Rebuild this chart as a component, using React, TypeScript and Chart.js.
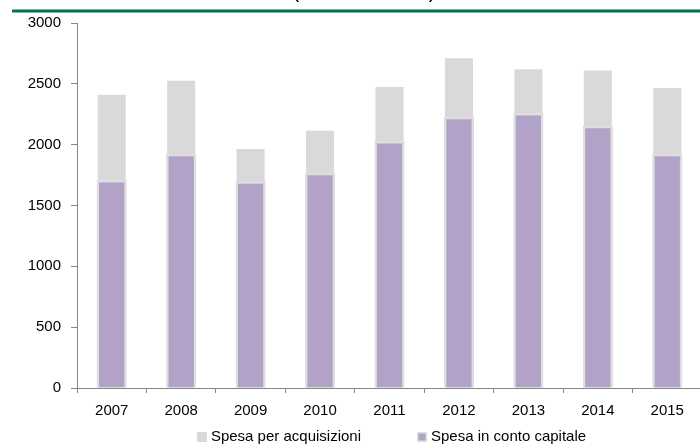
import React, { useEffect, useRef } from "react";
import { Chart, registerables } from "chart.js";

Chart.register(...registerables);

const years = ["2007", "2008", "2009", "2010", "2011", "2012", "2013", "2014", "2015"];
const spesaAcquisizioni = [2410, 2525, 1965, 2115, 2475, 2710, 2620, 2610, 2465];
const spesaContoCapitale = [1710, 1925, 1700, 1770, 2030, 2230, 2260, 2155, 1925];
const yMin = 0;
const yMax = 3000;
const yStep = 500;
const seriesLabels = ["Spesa per acquisizioni", "Spesa in conto capitale"];
const titleText = "(milioni di euro)";

const FONT = "'Liberation Sans', Arial, sans-serif";
const FS = 15;
const GRAY = "#d9d9d9";
const PURPLE = "#b3a2c7";
const PURPLE_BORDER = "#dedede";
const AXIS = "#868686";

const decorPlugin = {
  id: "decor",
  afterDraw(chart: any) {
    const ctx = chart.ctx;
    const area = chart.chartArea;
    ctx.save();
    ctx.strokeStyle = "#00704c";
    ctx.lineWidth = 3;
    ctx.beginPath();
    ctx.moveTo(12, 11);
    ctx.lineTo(chart.width, 11);
    ctx.stroke();
    ctx.fillStyle = "#000";
    ctx.font = `21px ${FONT}`;
    ctx.textAlign = "center";
    ctx.textBaseline = "alphabetic";
    ctx.fillText(titleText, 364, -2);

    ctx.font = `${FS}px ${FONT}`;
    ctx.textBaseline = "middle";
    ctx.textAlign = "left";
    const box = 10;
    const gapBoxText = 4;
    const gapItems = 56;
    const w0 = ctx.measureText(seriesLabels[0]).width;
    const w1 = ctx.measureText(seriesLabels[1]).width;
    const total = box + gapBoxText + w0 + gapItems + box + gapBoxText + w1;
    let x = (area.left + area.right) / 2 + 2 - total / 2;
    const cy = 437;
    ctx.fillStyle = GRAY;
    ctx.fillRect(x, cy - box / 2, box, box);
    ctx.fillStyle = "#000";
    ctx.fillText(seriesLabels[0], x + box + gapBoxText, cy);
    x += box + gapBoxText + w0 + gapItems;
    ctx.fillStyle = PURPLE_BORDER;
    ctx.fillRect(x, cy - box / 2, box, box);
    ctx.fillStyle = PURPLE;
    ctx.fillRect(x + 1.5, cy - box / 2 + 1.5, box - 3, box - 3);
    ctx.fillStyle = "#000";
    ctx.fillText(seriesLabels[1], x + box + gapBoxText, cy);
    ctx.restore();
  },
};

export default function App() {
  const ref = useRef<HTMLCanvasElement | null>(null);
  useEffect(() => {
    if (!ref.current) return;
    const chart = new Chart(ref.current, {
      type: "bar",
      data: {
        labels: years,
        datasets: [
          {
            label: seriesLabels[0],
            data: spesaAcquisizioni,
            backgroundColor: GRAY,
            borderWidth: 0,
            barPercentage: 0.404,
            categoryPercentage: 1,
            grouped: false,
            order: 2,
          } as any,
          {
            label: seriesLabels[1],
            data: spesaContoCapitale,
            backgroundColor: PURPLE,
            borderColor: PURPLE_BORDER,
            borderWidth: 2.5,
            barPercentage: 0.435,
            categoryPercentage: 1,
            grouped: false,
            order: 1,
          } as any,
        ],
      },
      options: {
        responsive: false,
        animation: false,
        devicePixelRatio: 1,
        layout: { padding: { top: 23, left: 0, right: 0, bottom: 26 } },
        plugins: {
          legend: { display: false },
          tooltip: { enabled: false },
          title: { display: false },
        },
        scales: {
          x: {
            offset: true,
            grid: {
              display: true,
              drawOnChartArea: false,
              offset: true,
              tickLength: 5,
              color: AXIS,
            },
            border: { display: true, color: AXIS, width: 1 },
            ticks: {
              color: "#000",
              font: { family: FONT, size: FS },
              padding: 9,
              maxRotation: 0,
            },
            afterFit(scale: any) {
              scale.height = 33;
            },
          } as any,
          y: {
            min: yMin,
            max: yMax,
            grid: {
              display: true,
              drawOnChartArea: false,
              tickLength: 6,
              color: AXIS,
            },
            border: { display: true, color: AXIS, width: 1 },
            ticks: {
              stepSize: yStep,
              color: "#000",
              font: { family: FONT, size: FS },
              padding: 10,
              callback: (v: any) => String(v),
            },
            afterFit(scale: any) {
              scale.width = 77;
            },
          },
        },
      },
      plugins: [decorPlugin],
    });
    return () => chart.destroy();
  }, []);
  return (
    <div style={{ position: "fixed", left: 0, top: 0, width: 702, height: 447, background: "#fff" }}>
      <canvas ref={ref} width={702} height={447} style={{ display: "block" }} />
    </div>
  );
}
